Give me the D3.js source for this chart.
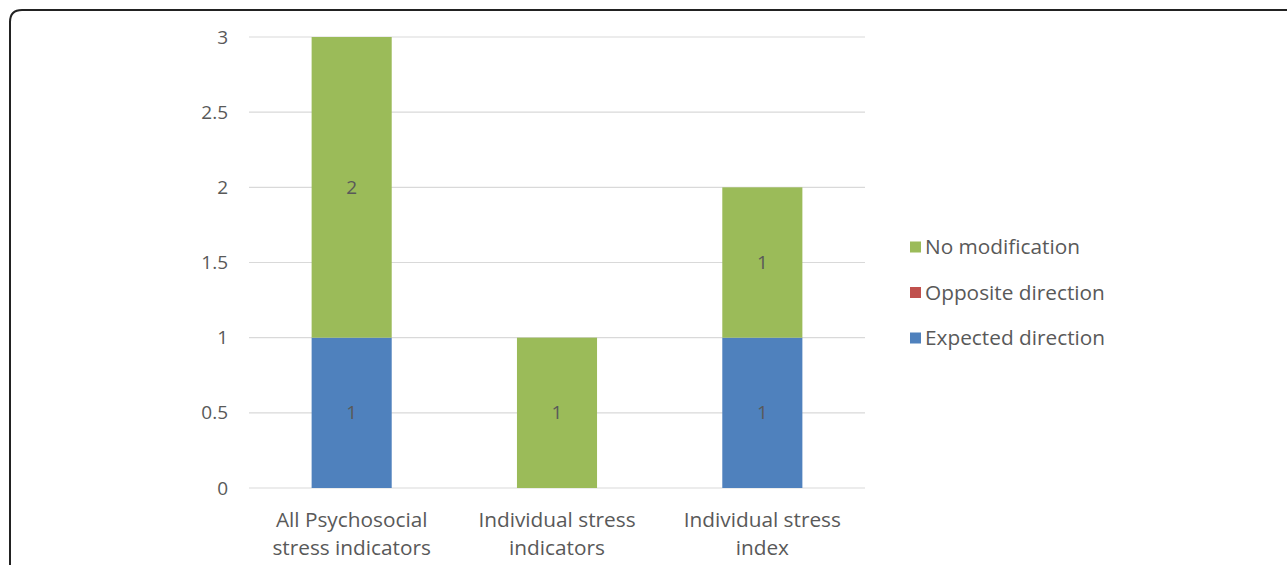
<!DOCTYPE html>
<html>
<head>
<meta charset="utf-8">
<script src="https://cdn.jsdelivr.net/npm/d3@7"></script>
<style>
  html, body { margin: 0; padding: 0; background: #fff; }
  svg { display: block; }
  text { font-family: "Open Sans", Lato, sans-serif; fill: #595959; }
</style>
</head>
<body>
<svg id="chart" width="1287" height="565"></svg>
<script>
// Categories (two-line labels) and stacked series values
const categories = ["All Psychosocial stress indicators", "Individual stress indicators", "Individual stress index"];
const categoryLines = [["All Psychosocial", "stress indicators"], ["Individual stress", "indicators"], ["Individual stress", "index"]];
const seriesNames = ["Expected direction", "Opposite direction", "No modification"];
const expectedDirection = [1, 0, 1];
const oppositeDirection = [0, 0, 0];
const noModification = [2, 1, 1];
const yTicks = [0, 0.5, 1, 1.5, 2, 2.5, 3];
const legendOrder = ["No modification", "Opposite direction", "Expected direction"];

const colors = {
  "Expected direction": "#4F81BD",
  "Opposite direction": "#C0504D",
  "No modification": "#9BBB59"
};

const svg = d3.select("#chart");

// Frame: rounded corner at top-left, open to the right and bottom
svg.append("path")
  .attr("d", "M10,565 L10,22 Q10,10 22,10 L1287,10")
  .attr("fill", "none")
  .attr("stroke", "#222")
  .attr("stroke-width", 2);

const plot = { left: 249, right: 865, top: 37, bottom: 488 };

const x = d3.scaleBand()
  .domain(categories)
  .range([plot.left, plot.right])
  .paddingInner(0.61)
  .paddingOuter(0.305);

const y = d3.scaleLinear()
  .domain([0, 3])
  .range([plot.bottom, plot.top]);

// Gridlines
svg.append("g")
  .selectAll("line")
  .data(yTicks)
  .join("line")
  .attr("x1", plot.left)
  .attr("x2", plot.right)
  .attr("y1", d => y(d))
  .attr("y2", d => y(d))
  .attr("stroke", "#d9d9d9")
  .attr("stroke-width", 1.2);

// Y axis labels
const yAxis = d3.axisLeft(y).tickValues(yTicks).tickSize(0).tickPadding(0)
  .tickFormat(d => String(d));
const yg = svg.append("g")
  .attr("transform", `translate(${plot.left - 21},0)`)
  .call(yAxis);
yg.select(".domain").remove();
yg.selectAll("text")
  .attr("font-size", 19)
  .attr("font-family", "'Open Sans', Lato, sans-serif")
  .attr("fill", "#595959");

// Stacked bars
const rows = categories.map((c, i) => ({
  category: c,
  "Expected direction": expectedDirection[i],
  "Opposite direction": oppositeDirection[i],
  "No modification": noModification[i]
}));
const stack = d3.stack().keys(seriesNames)(rows);

const layers = svg.append("g")
  .selectAll("g")
  .data(stack)
  .join("g")
  .attr("fill", d => colors[d.key]);

layers.selectAll("rect")
  .data(d => d)
  .join("rect")
  .attr("x", d => x(d.data.category))
  .attr("width", x.bandwidth())
  .attr("y", d => y(d[1]))
  .attr("height", d => y(d[0]) - y(d[1]));

// Value labels in the middle of each non-empty segment
layers.selectAll("text")
  .data(d => d.filter(s => s[1] - s[0] > 0))
  .join("text")
  .attr("x", d => x(d.data.category) + x.bandwidth() / 2)
  .attr("y", d => y((d[0] + d[1]) / 2))
  .attr("dy", "0.35em")
  .attr("text-anchor", "middle")
  .attr("font-size", 19)
  .attr("fill", "#404040")
  .text(d => d[1] - d[0]);

// Category labels (two lines)
const xl = svg.append("g")
  .selectAll("text")
  .data(categories)
  .join("text")
  .attr("x", d => x(d) + x.bandwidth() / 2)
  .attr("y", 520)
  .attr("text-anchor", "middle")
  .attr("font-size", 20.8);
xl.selectAll("tspan")
  .data((d, i) => categoryLines[i].map((t, j) => ({ t, j })))
  .join("tspan")
  .attr("x", function () { return d3.select(this.parentNode).attr("x"); })
  .attr("dy", d => d.j === 0 ? "0.35em" : "28")
  .text(d => d.t);

// Legend
const legend = svg.append("g")
  .selectAll("g")
  .data(legendOrder)
  .join("g")
  .attr("transform", (d, i) => `translate(910,${247 + i * 45.5})`);
legend.append("rect")
  .attr("x", 0)
  .attr("y", -5.5)
  .attr("width", 11)
  .attr("height", 11)
  .attr("fill", d => colors[d]);
legend.append("text")
  .attr("x", 15)
  .attr("y", 0)
  .attr("dy", "0.35em")
  .attr("font-size", 20.8)
  .text(d => d);
</script>
</body>
</html>
